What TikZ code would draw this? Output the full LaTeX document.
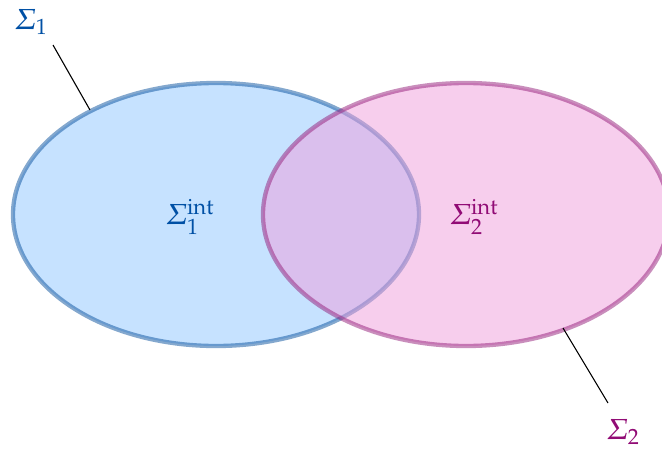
\documentclass[tikz,border=0pt]{standalone}
\usepackage[slantedGreek]{mathpazo}
\definecolor{cA}{RGB}{0,80,165}
\definecolor{bA}{RGB}{10,82,158}
\definecolor{fA}{RGB}{141,197,255}
\definecolor{cB}{RGB}{145,11,117}
\definecolor{bB}{RGB}{148,30,122}
\definecolor{fB}{RGB}{239,157,219}
\begin{document}
\begin{tikzpicture}[x=1pt,y=-1pt,
  setA/.style={draw=bA,fill=fA,line width=4.3pt,fill opacity=0.5,draw opacity=0.5},
  setB/.style={draw=bB,fill=fB,line width=4.3pt,fill opacity=0.5,draw opacity=0.5},
  lbl/.style={inner sep=0pt,font=\fontsize{29}{34}\selectfont},
  leader/.style={draw=black,line width=1.1pt}]
\useasboundingbox (0,0) rectangle (662,450);
\path[setA] (216,214.5) ellipse [x radius=203, y radius=131.5];
\path[setB] (466,214.5) ellipse [x radius=203, y radius=131.5];
\node[lbl,text=cA] (s1) at (31,22) {$\Sigma_1$};
\node[lbl,text=cB] (s2) at (623,432) {$\Sigma_2$};
\node[lbl,text=cA] (s1i) at (190,217) {$\Sigma_1^{\mathrm{int}}$};
\node[lbl,text=cB] (s2i) at (474,217) {$\Sigma_2^{\mathrm{int}}$};
\coordinate (a1) at (53,45);
\coordinate (b1) at (90,110);
\coordinate (a2) at (608,403);
\coordinate (b2) at (563,328);
\draw[leader] (a1) -- (b1);
\draw[leader] (a2) -- (b2);
\end{tikzpicture}
\end{document}
